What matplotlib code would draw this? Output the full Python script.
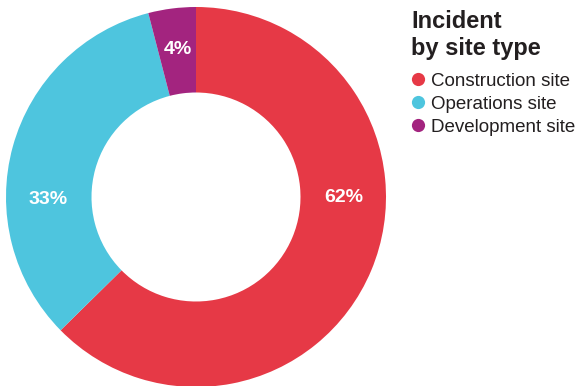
import matplotlib
matplotlib.use("Agg")
import matplotlib.pyplot as plt
from matplotlib.lines import Line2D
import numpy as np

plt.rcParams['font.family'] = ['Liberation Sans', 'DejaVu Sans']

# data
site_types = ['Construction site', 'Operations site', 'Development site']
shares = [62, 33, 4]
colors = ['#E63946', '#4EC5DE', '#A3247F']
# angle (deg) where each percent label sits
label_angles = [0, 181, 97]

fig = plt.figure(figsize=(5.82, 3.86), dpi=100)
ax = fig.add_axes([6/582, -1/386, 380/582, 380/386])

wedges, _ = ax.pie(shares, colors=colors, startangle=90, counterclock=False,
                   radius=1.0, wedgeprops=dict(width=0.45, linewidth=0))
ax.set_xlim(-1, 1)
ax.set_ylim(-1, 1)
ax.set_aspect('equal')
ax.axis('off')

r = 0.78
for s, a in zip(shares, label_angles):
    x = r * np.cos(np.radians(a))
    y = r * np.sin(np.radians(a))
    ax.text(x, y, f'{s}%', ha='center', va='center', color='white',
            fontsize=14, fontweight='bold')

# title + legend
fig.text(411/582, 1 - 10/386, 'Incident\nby site type', ha='left', va='top',
         fontsize=17, fontweight='bold', color='#231F20', linespacing=1.2)

handles = [Line2D([], [], marker='o', linestyle='', markersize=9.5,
                  markerfacecolor=c, markeredgewidth=0) for c in colors]
leg = fig.legend(handles, site_types, loc='upper left',
                 bbox_to_anchor=(411/582, 1 - 72.5/386), frameon=False,
                 fontsize=13.5, handlelength=0.77, handletextpad=0.28,
                 labelspacing=0.31, borderpad=0, borderaxespad=0)
for t in leg.get_texts():
    t.set_color('#231F20')

fig.savefig('out.png', dpi=100)
